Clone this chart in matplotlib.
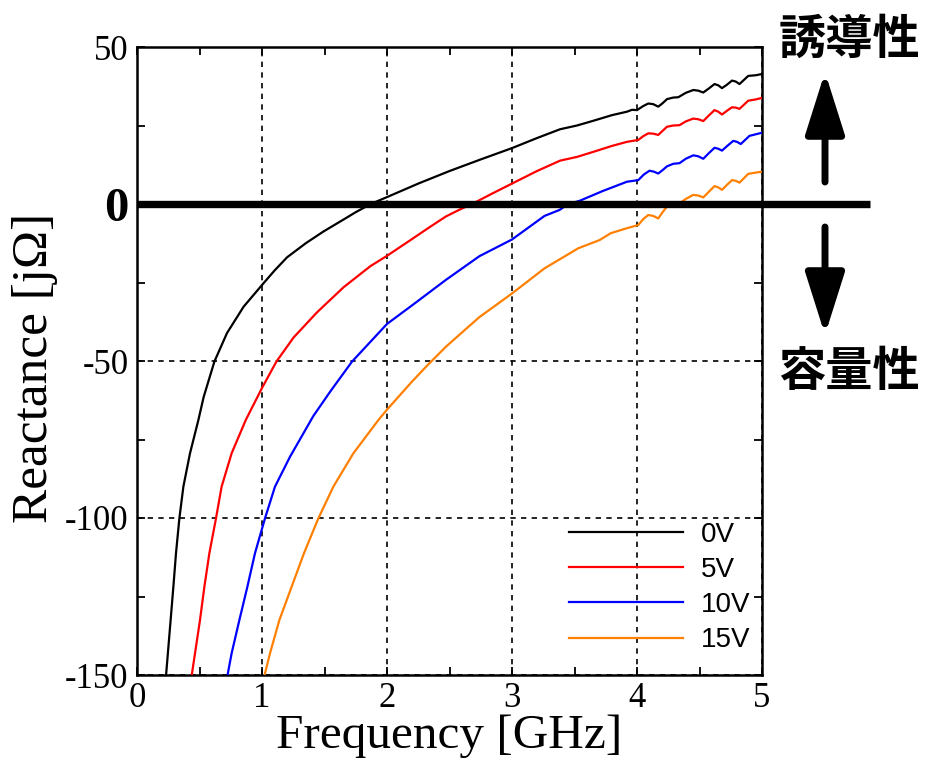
import matplotlib
matplotlib.use("Agg")
import matplotlib.pyplot as plt
from matplotlib.ticker import MultipleLocator

plt.rcParams['axes.unicode_minus'] = False

# ---- data ----
freq_0v = [0.232, 0.269, 0.291, 0.312, 0.339, 0.371, 0.424, 0.491, 0.533, 0.619, 0.72, 0.853,
           1.0, 1.1, 1.2, 1.35, 1.49, 1.65, 1.75, 1.87, 2.0, 2.25, 2.5, 2.75, 3.0, 3.2, 3.384,
           3.52, 3.65, 3.8, 3.92, 3.96, 4.0, 4.05, 4.09, 4.13, 4.17, 4.205, 4.24, 4.29,
           4.33, 4.39, 4.45, 4.49, 4.53, 4.575, 4.62, 4.65, 4.68, 4.72, 4.76, 4.79, 4.82,
           4.855, 4.89, 4.95, 5.0]
react_0v = [-150.3, -132.5, -121.9, -111.2, -100.1, -90, -79.4, -68.8, -61.5, -50.2, -41.1,
            -32.7, -25.8, -21.2, -17.0, -12.5, -8.8, -5.0, -2.6, 0, 2.2, 6.5, 10.5, 14.2,
            17.8, 21.0, 23.8, 25.0, 26.5, 28.3, 29.4, 30.0, 29.9, 31.2, 32.0, 31.8, 31.0,
            32.1, 33.4, 33.9, 34.0, 35.4, 36.3, 36.1, 35.5, 36.8, 38.2, 37.8, 36.9, 38.0,
            39.3, 39.0, 38.2, 39.5, 40.8, 41.0, 41.4]

freq_5v = [0.437, 0.504, 0.539, 0.579, 0.632, 0.677, 0.757, 0.87, 1.0, 1.115, 1.253, 1.44,
           1.653, 1.867, 2.0, 2.21, 2.34, 2.47, 2.58, 2.68, 2.85, 3.0, 3.2, 3.384, 3.52, 3.65,
           3.8, 3.92, 4.01, 4.05, 4.09, 4.13, 4.17, 4.205, 4.24, 4.29, 4.34, 4.39, 4.45,
           4.49, 4.53, 4.575, 4.62, 4.65, 4.68, 4.72, 4.76, 4.79, 4.82, 4.855, 4.89, 4.95,
           5.0]
react_5v = [-150.3, -132.5, -121.9, -111.2, -100.1, -90, -79.4, -68.8, -58.6, -50.2, -42.5,
            -34.5, -26.5, -19.8, -16.5, -10.9, -7.4, -4, -1.8, 0, 3.5, 6.5, 10.5, 13.8, 15.0,
            16.6, 18.5, 19.8, 20.4, 21.6, 22.5, 22.4, 22.0, 23.3, 24.6, 25.0, 25.1, 26.3,
            27.2, 27.0, 26.4, 28.2, 29.9, 29.4, 28.5, 29.7, 30.8, 30.7, 30.3, 31.6, 32.9,
            33.3, 33.8]

freq_10v = [0.723, 0.757, 0.819, 0.883, 0.944, 1.024, 1.104, 1.224, 1.411, 1.55, 1.72, 2.0,
            2.21, 2.47, 2.74, 3.0, 3.26, 3.38, 3.45, 3.54, 3.73, 3.92, 4.01, 4.055, 4.1,
            4.135, 4.17, 4.205, 4.24, 4.29, 4.34, 4.39, 4.45, 4.49, 4.53, 4.575, 4.62, 4.65,
            4.68, 4.725, 4.77, 4.80, 4.83, 4.865, 4.9, 4.95, 5.0]
react_10v = [-150.3, -143.1, -132.5, -121.9, -111.2, -100.1, -90, -80.5, -67.5, -59.5, -50.2,
             -38.2, -32, -24.2, -16.6, -11.3, -3.8, -1.9, 0, 1.0, 4.2, 7.1, 7.6, 9.4, 10.6,
             10.3, 9.7, 10.8, 12.0, 12.8, 13.0, 14.4, 15.5, 15.2, 14.4, 16.2, 17.9, 17.6,
             17.0, 18.6, 20.1, 19.8, 19.1, 20.4, 21.7, 22.2, 22.7]

freq_15v = [1.019, 1.064, 1.139, 1.237, 1.336, 1.451, 1.571, 1.731, 1.931, 2.0, 2.19, 2.32,
            2.47, 2.64, 2.74, 3.0, 3.26, 3.53, 3.70, 3.79, 3.92, 4.01, 4.05, 4.09, 4.13,
            4.17, 4.205, 4.24, 4.29, 4.34, 4.39, 4.45, 4.49, 4.53, 4.575, 4.62, 4.65, 4.68,
            4.72, 4.76, 4.79, 4.82, 4.855, 4.89, 4.95, 5.0]
react_15v = [-150.3, -143.1, -132.5, -121.9, -111.2, -100.1, -90, -79.4, -68.8, -65.5, -57,
             -51.5, -45.5, -39.5, -36, -28.5, -20.5, -14.1, -11.5, -9.3, -7.7, -6.7, -4.8,
             -3.5, -3.8, -4.6, -2.6, -0.8, 0.0, 0.2, 1.6, 2.9, 2.7, 2.1, 3.9, 5.7, 5.3, 4.5,
             6.1, 7.6, 7.4, 6.8, 8.2, 9.6, 10.0, 10.3]

series_labels = ['0V', '5V', '10V', '15V']
series_colors = ['#000000', '#ff0000', '#0000ff', '#ff8000']

xticks = [0, 1, 2, 3, 4, 5]
xtick_labels = ['0', '1', '2', '3', '4', '5']
yticks = [50, 0, -50, -100, -150]
ytick_labels = ['50', '0', '-50', '-100', '-150']

# ---- figure ----
W, H = 927, 762
fig = plt.figure(figsize=(W / 100, H / 100), dpi=100)
ax = fig.add_axes([137 / W, 1 - 675 / H, (762 - 137) / W, (675 - 47) / H])

serif = ['Liberation Serif', 'DejaVu Serif']

for fx, ry, lab, col in zip([freq_0v, freq_5v, freq_10v, freq_15v],
                            [react_0v, react_5v, react_10v, react_15v],
                            series_labels, series_colors):
    ax.plot(fx, ry, color=col, lw=1.6, label=lab, zorder=3, solid_joinstyle='round')

ax.set_xlim(0, 5)
ax.set_ylim(-150, 50)

# grid
ax.grid(True, which='major', color='black', lw=1.2, linestyle=(0, (3.2, 3.2)))
# thick zero line extending past the axes
ax.axhline(0, xmin=0, xmax=(870 - 137) / (762 - 137), color='black', lw=5.3,
           clip_on=False, zorder=4, solid_capstyle='butt')

ax.set_xticks(xticks, labels=xtick_labels)
ax.set_yticks(yticks, labels=ytick_labels)
ax.xaxis.set_minor_locator(MultipleLocator(0.5))
ax.yaxis.set_minor_locator(MultipleLocator(25))
ax.tick_params(which='both', direction='in', top=True, right=True, width=1.3,
               color='black', length=6)
ax.tick_params(axis='y', pad=6)
ax.tick_params(axis='x', pad=5)
for lbl in ax.get_xticklabels() + ax.get_yticklabels():
    lbl.set_fontfamily(serif)
    lbl.set_fontsize(25)
for lbl in ax.get_yticklabels():
    if lbl.get_text() == '0':
        lbl.set_fontweight('bold')
        lbl.set_fontsize(35)

for sp in ax.spines.values():
    sp.set_linewidth(1.8)

ax.set_xlabel('Frequency [GHz]', fontsize=35.5, family=serif, va='center')
ax.set_ylabel('Reactance [jΩ]', fontsize=37, family=serif, va='center')
ax.xaxis.set_label_coords(0.5, -0.097)
ax.yaxis.set_label_coords(-0.163, 0.489)

leg = ax.legend(loc='center left', bbox_to_anchor=(569 / W, 1 - 587.5 / H),
                bbox_transform=fig.transFigure, frameon=False,
                prop={'family': ['Liberation Sans', 'DejaVu Sans'], 'size': 20},
                handlelength=4.1, handletextpad=0.65, labelspacing=0.33,
                borderpad=0, borderaxespad=0)

# arrows and annotations on the right
cjk = ['Noto Sans CJK JP', 'DejaVu Sans']
ax_x = 825 / W
fig.text(849 / W, 1 - 40 / H, '誘導性', family=cjk, fontsize=34, fontweight='bold',
         ha='center', va='center')
fig.text(849 / W, 1 - 372 / H, '容量性', family=cjk, fontsize=34, fontweight='bold',
         ha='center', va='center')
astyle = dict(arrowstyle='-|>,head_length=0.95,head_width=0.3', lw=5, color='black',
              mutation_scale=40, shrinkA=0, shrinkB=0, capstyle='round')
ax.annotate('', xy=(ax_x, 1 - 72 / H), xytext=(ax_x, 1 - 182 / H),
            xycoords='figure fraction', textcoords='figure fraction',
            arrowprops=astyle, annotation_clip=False)
ax.annotate('', xy=(ax_x, 1 - 335 / H), xytext=(ax_x, 1 - 227 / H),
            xycoords='figure fraction', textcoords='figure fraction',
            arrowprops=astyle, annotation_clip=False)

fig.savefig('out.png', dpi=100)
